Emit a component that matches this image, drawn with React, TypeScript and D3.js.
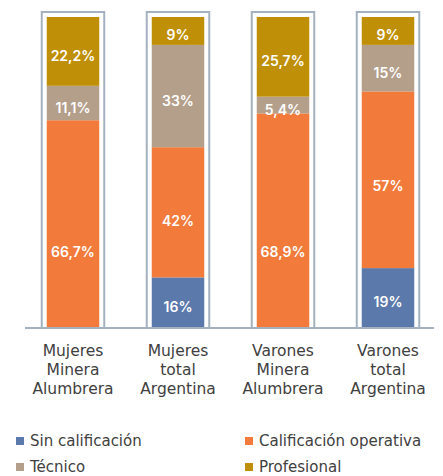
import React, { useEffect, useRef } from "react";
import * as d3 from "d3";

const categories = [
  ["Mujeres", "Minera", "Alumbrera"],
  ["Mujeres", "total", "Argentina"],
  ["Varones", "Minera", "Alumbrera"],
  ["Varones", "total", "Argentina"],
];
const seriesNames = ["Sin calificación", "Calificación operativa", "Técnico", "Profesional"];
const sinCalificacion = [0, 16, 0, 19];
const operativa = [66.7, 42, 68.9, 57];
const tecnico = [11.1, 33, 5.4, 15];
const profesional = [22.2, 9, 25.7, 9];
const colors = ["#5B79AB", "#F27A3B", "#B49F8B", "#BF9007"];

const labelFont = "Inter, 'Open Sans', sans-serif";
const textFont = "'DejaVu Sans', sans-serif";

// the original moved a few labels down by hand (px)
const operativaNudge = [24, 4, 27, 2];

const App = () => {
  const ref = useRef<SVGSVGElement | null>(null);

  useEffect(() => {
    const svg = d3.select(ref.current);
    svg.selectAll("*").remove();

    const keys = categories.map((c) => c.join(" "));
    const x = d3.scaleBand().domain(keys).range([20.5, 440.5]).paddingInner(0.5).paddingOuter(0.25);
    const y = d3.scaleLinear().domain([0, 100]).range([327, 17]);

    const series = [sinCalificacion, operativa, tecnico, profesional];
    const rows = keys.map((k, i) => ({ key: k, idx: i, s0: series[0][i], s1: series[1][i], s2: series[2][i], s3: series[3][i] }));
    const stacked = d3.stack<any>().keys(["s0", "s1", "s2", "s3"])(rows);

    // frames around each column
    svg
      .append("g")
      .selectAll("path")
      .data(keys)
      .join("path")
      .attr("fill", "none")
      .attr("stroke", "#A4B2C0")
      .attr("stroke-width", 2)
      .attr("d", (k) => {
        const x0 = x(k)! - 5;
        const x1 = x(k)! + x.bandwidth() + 5;
        const top = y(100) - 5;
        return `M${x0},${y(0)} L${x0},${top} L${x1},${top} L${x1},${y(0)}`;
      });

    // baseline
    svg
      .append("line")
      .attr("x1", 25)
      .attr("x2", 434)
      .attr("y1", y(0) + 1)
      .attr("y2", y(0) + 1)
      .attr("stroke", "#A4B2C0")
      .attr("stroke-width", 2);

    stacked.forEach((layer, li) => {
      const g = svg.append("g");
      g.selectAll("rect")
        .data(layer)
        .join("rect")
        .attr("x", (d: any) => x(d.data.key)!)
        .attr("width", x.bandwidth())
        .attr("y", (d) => y(d[1]))
        .attr("height", (d) => y(d[0]) - y(d[1]))
        .attr("fill", colors[li]);
      g.selectAll("text")
        .data(layer.filter((d) => d[1] - d[0] > 0))
        .join("text")
        .attr("x", (d: any) => x(d.data.key)! + x.bandwidth() / 2)
        .attr("y", (d: any) => (y(d[0]) + y(d[1])) / 2 + 4 + (li === 1 ? operativaNudge[d.data.idx] : 0))
        .attr("text-anchor", "middle")
        .attr("dominant-baseline", "central")
        .attr("fill", "#fff")
        .attr("font-family", labelFont)
        .attr("font-weight", 600)
        .attr("font-size", 14)
        .text((d) => String(+(d[1] - d[0]).toFixed(1)).replace(".", ",") + "%");
    });

    // category labels
    const labels = svg.append("g");
    categories.forEach((lines, i) => {
      const cx = x(keys[i])! + x.bandwidth() / 2;
      const t = labels
        .append("text")
        .attr("text-anchor", "middle")
        .attr("fill", "#404040")
        .attr("font-family", textFont)
        .attr("font-size", 15.5);
      lines.forEach((l, j) => {
        t.append("tspan").attr("x", cx).attr("y", 356 + j * 19).text(l);
      });
    });

    // legend
    const legendPos = [
      [16, 441],
      [245, 441],
      [16, 467],
      [245, 467],
    ];
    const legend = svg.append("g");
    seriesNames.forEach((name, i) => {
      const [lx, ly] = legendPos[i];
      legend.append("rect").attr("x", lx).attr("y", ly - 4).attr("width", 8).attr("height", 8).attr("fill", colors[i]);
      legend
        .append("text")
        .attr("x", lx + 14)
        .attr("y", ly)
        .attr("dominant-baseline", "central")
        .attr("fill", "#404040")
        .attr("font-family", textFont)
        .attr("font-size", 15)
        .text(name);
    });
  }, []);

  return <svg ref={ref} width="443" height="476" style={{ position: "absolute", left: 0, top: 0 }}></svg>;
};

export default App;
